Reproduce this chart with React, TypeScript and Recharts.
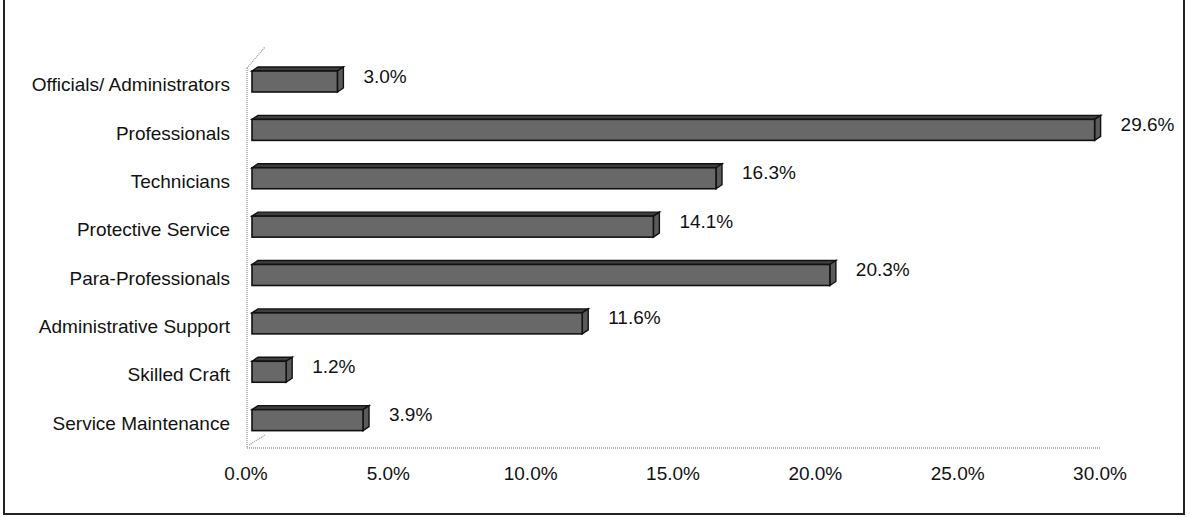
import React from "react";
import { BarChart, Bar, XAxis, YAxis, LabelList } from "recharts";

// ---------------------------------------------------------------------------
// Data
// ---------------------------------------------------------------------------

const categories = [
  "Officials/ Administrators",
  "Professionals",
  "Technicians",
  "Protective Service",
  "Para-Professionals",
  "Administrative Support",
  "Skilled Craft",
  "Service Maintenance",
];

const shares = [3.0, 29.6, 16.3, 14.1, 20.3, 11.6, 1.2, 3.9];

const xTicks = [0, 5, 10, 15, 20, 25, 30];

const chartData = categories.map((name, i) => ({ name, value: shares[i] }));

// ---------------------------------------------------------------------------
// Layout
// ---------------------------------------------------------------------------

const W = 1190;
const H = 517;
const PLOT_LEFT = 246;
const PLOT_RIGHT = 1100;
const PLOT_TOP = 57;
const PLOT_BOTTOM = 444;
const DEPTH_X = 6;
const DEPTH_Y = 4;
const FONT = "'Liberation Sans', Arial, Helvetica, sans-serif";
const TEXT = "#121212";

// 3D bar: front face shifted by the depth, top and side faces behind it
function Bar3D(props: any) {
  const { x, y, width, height } = props;
  if (width == null || height == null) return null;
  const fx = x + DEPTH_X;
  const fr = fx + width;
  return (
    <g>
      <polygon
        points={`${fx},${y} ${fx + DEPTH_X},${y - DEPTH_Y} ${fr + DEPTH_X},${y - DEPTH_Y} ${fr},${y}`}
        fill="#3f3f3f"
        stroke="#111"
        strokeWidth={1.4}
      />
      <polygon
        points={`${fr},${y} ${fr + DEPTH_X},${y - DEPTH_Y} ${fr + DEPTH_X},${y + height - DEPTH_Y} ${fr},${y + height}`}
        fill="#5a5a5a"
        stroke="#111"
        strokeWidth={1.4}
      />
      <rect x={fx} y={y} width={width} height={height} fill="#686868" stroke="#111" strokeWidth={1.6} />
    </g>
  );
}

function ValueLabel(props: any) {
  const { x, y, width, height, value } = props;
  return (
    <text
      x={x + width + DEPTH_X * 2 + 20}
      y={y + height / 2 + 1}
      fontSize={19}
      fontFamily={FONT}
      fill={TEXT}
    >
      {`${Number(value).toFixed(1)}%`}
    </text>
  );
}

function CategoryTick(props: any) {
  const { y, payload } = props;
  return (
    <text x={230} y={y + 10} textAnchor="end" fontSize={19} fontFamily={FONT} fill={TEXT}>
      {payload.value}
    </text>
  );
}

function PercentTick(props: any) {
  const { x, payload } = props;
  return (
    <text x={x} y={PLOT_BOTTOM + 36} textAnchor="middle" fontSize={19} fontFamily={FONT} fill={TEXT}>
      {`${Number(payload.value).toFixed(1)}%`}
    </text>
  );
}

export default function App() {
  return (
    <div style={{ position: "absolute", left: 0, top: 0, width: W, height: H, background: "#fff" }}>
      <BarChart
        width={W}
        height={H}
        data={chartData}
        layout="vertical"
        margin={{ top: PLOT_TOP, right: W - PLOT_RIGHT, bottom: H - PLOT_BOTTOM - 30, left: 0 }}
        barSize={21}
      >
        <XAxis
          type="number"
          domain={[0, 30]}
          ticks={xTicks}
          height={30}
          axisLine={false}
          tickLine={false}
          tick={<PercentTick />}
          interval={0}
        />
        <YAxis
          type="category"
          dataKey="name"
          width={PLOT_LEFT}
          axisLine={false}
          tickLine={false}
          tick={<CategoryTick />}
          interval={0}
        />
        <Bar dataKey="value" shape={<Bar3D />} isAnimationActive={false}>
          <LabelList dataKey="value" content={<ValueLabel />} />
        </Bar>
      </BarChart>

      {/* wall / floor frame and outer border */}
      <svg
        width={W}
        height={H}
        style={{ position: "absolute", left: 0, top: 0, pointerEvents: "none" }}
      >
        <g stroke="#9a9a9a" strokeWidth={1.3} strokeDasharray="1 1" fill="none">
          <line x1={247} y1={68} x2={247} y2={448} />
          <line x1={247} y1={68} x2={265} y2={47} />
          <line x1={247} y1={448} x2={PLOT_RIGHT} y2={448} />
          <line x1={249} y1={445} x2={265} y2={435} />
        </g>
        <rect x={4} y={-2} width={1180} height={516} fill="none" stroke="#222" strokeWidth={2} />
      </svg>
    </div>
  );
}
